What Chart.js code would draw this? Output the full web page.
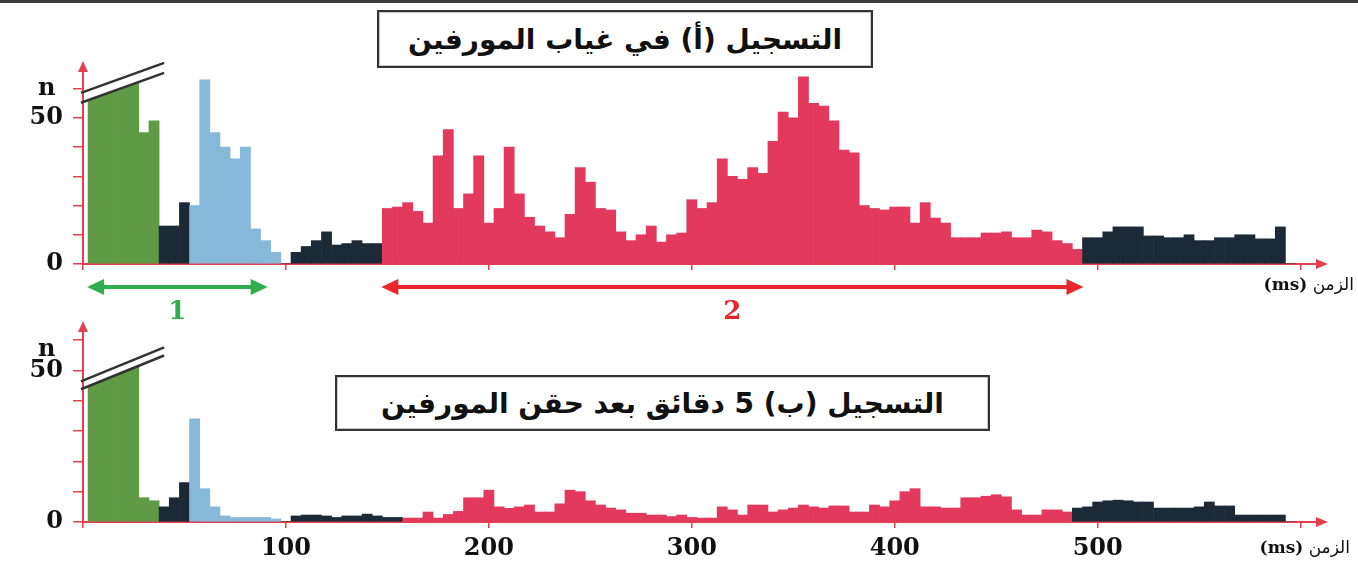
<!DOCTYPE html>
<html>
<head>
<meta charset="utf-8">
<script src="https://cdn.jsdelivr.net/npm/chart.js@4.4.1/dist/chart.umd.min.js"></script>
<style>
  body { margin: 0; background: #fff; width: 1358px; height: 567px; overflow: hidden; position: relative; }
  canvas { position: absolute; left: 0; top: 0; }
  .topline { position: absolute; left: 0; top: 0; width: 1358px; height: 3px; background: #3d3d3d; }
  .box { position: absolute; border: 2px solid #333; box-shadow: inset 0 0 0 1px #c8c8c8;
         background: #fff; font-family: "DejaVu Sans"; font-weight: bold; font-size: 28px;
         display: flex; align-items: center; justify-content: center; direction: rtl; color: #111; }
  .lbl { position: absolute; font-family: "DejaVu Serif"; font-weight: bold; color: #111; }
  .unit { position: absolute; font-family: "DejaVu Sans"; font-size: 17px; color: #111; direction: rtl; }
  .unit b { font-family: "DejaVu Serif"; }
</style>
</head>
<body>
<div class="topline"></div>
<canvas id="chartA" width="1358" height="567"></canvas>
<canvas id="chartB" width="1358" height="567"></canvas>

<div class="box" style="left:377px;top:10px;width:492px;height:54px;">التسجيل (أ) في غياب المورفين</div>
<div class="box" style="left:335px;top:375px;width:651px;height:52px;">التسجيل (ب) 5 دقائق بعد حقن المورفين</div>

<div class="lbl" style="left:38px;top:72px;font-size:24px;">n</div>
<div class="lbl" style="left:38px;top:333px;font-size:24px;">n</div>
<div class="unit" style="right:4px;top:274px;">الزمن <b>(ms)</b></div>
<div class="unit" style="right:8px;top:537px;">الزمن <b>(ms)</b></div>

<script>
// bin centres (ms), 5 ms bins
const binCenters = [
  5,10,15,20,25,30,35,40,45,50,
  55,60,65,70,75,80,85,90,95,100,
  105,110,115,120,125,130,135,140,145,150,
  155,160,165,170,175,180,185,190,195,200,
  205,210,215,220,225,230,235,240,245,250,
  255,260,265,270,275,280,285,290,295,300,
  305,310,315,320,325,330,335,340,345,350,
  355,360,365,370,375,380,385,390,395,400,
  405,410,415,420,425,430,435,440,445,450,
  455,460,465,470,475,480,485,490,495,500,
  505,510,515,520,525,530,535,540,545,550,
  555,560,565,570,575,580,585,590,595
];

// recording (a): without morphine  (first bars run off the axis, hence the break)
const countsA = [
  90,90,90,90,90,45,49,13,13,21,
  20,63,45,40,36,40,12,8,4,0,
  4,6,8,11,6.5,7,8,7,7,19,
  19.5,21,18,14,37,46,19,24,37,14,
  19,40,24,16,13,11,9,17,33,28,
  19,18.5,11,8,10,13,7.5,10,10.6,22,
  19,21,36,30,29,33,31,42,52,50,
  64,55,54,49,39,38,20,19,18.5,19.5,
  19.5,14,21,15.7,14,9,9,9,10.6,10.6,
  11,9,9,11.6,11,8,7,5,9,9,
  11,12.7,12.7,12.7,9.6,9.6,9,9,10,8,
  8,9,9,10,10,8.6,8.6,12.7,0
];

// recording (b): 5 minutes after morphine injection
const countsB = [
  90,90,90,90,90,8,7,5,8,13,
  34,11,5,2,1.5,1.5,1.5,1.5,1,0,
  2,2.3,2.3,2,1.5,2,2,2.6,2,1.5,
  1.5,1.3,1.3,3.3,1.3,2.5,3.5,8,8,10.5,
  5,4.5,5,5.6,3.3,3.3,6,10.5,10,7,
  5.6,4.6,4,2.9,2.9,2.3,2.3,1.8,2.3,1.5,
  1.3,1.3,5,4,2.3,5.6,5.6,3.3,4,4.6,
  5.6,5,4.6,5.3,5.3,3.3,3.3,5.6,5,7,
  10,11,5,5,4.6,4.6,8,8,8.5,9,
  8.3,4,2.3,2.3,4,4,3.3,4.6,5,6.6,
  7,7.2,7,6.6,6.6,4.6,4.6,4.6,4.6,5,
  6.6,5.3,5.3,2.3,2.3,2.3,2.3,2.3,0
];

// groups of bins: [from ms, to ms, kind]
const groupsA = [[5,35,'g'],[40,50,'d'],[55,95,'b'],[100,145,'d'],[150,490,'r'],[495,595,'d']];
const groupsB = [[5,35,'g'],[40,50,'d'],[55,95,'b'],[100,155,'d'],[160,485,'r'],[490,595,'d']];

// zones marked under recording (a)
const zoneRanges = [[2,91],[147,493]];
const zoneNames = ['1','2'];

const kindColor = { g: '#5f9b45', d: '#1c2a37', b: '#86b8d9', r: '#e2395c' };
const axisRed = '#e2404f';
const zoneColor = ['#2fae4f', '#e8262b'];

function colorOf(groups, ms) {
  for (const g of groups) if (ms >= g[0] && ms <= g[1]) return kindColor[g[2]];
  return kindColor.d;
}

const decor = {
  id: 'decor',
  afterDatasetsDraw(chart, args, o) {
    const { ctx, chartArea: a, scales: { x, y } } = chart;
    const x0 = x.getPixelForValue(o.brkX[0]), x1 = x.getPixelForValue(o.brkX[1]);
    const lo = o.brkLow.map(v => y.getPixelForValue(v));
    const hi = o.brkHigh.map(v => y.getPixelForValue(v));
    ctx.save();
    // blank out the part of the tall bars above the break
    ctx.fillStyle = '#fff';
    ctx.beginPath();
    ctx.moveTo(x0 + 1.5, lo[0]); ctx.lineTo(x1 + 2, lo[1]);
    ctx.lineTo(x1 + 2, a.top - 14); ctx.lineTo(x0 + 1.5, a.top - 14);
    ctx.closePath(); ctx.fill();
    ctx.strokeStyle = '#333'; ctx.lineWidth = 2.5;
    ctx.beginPath();
    ctx.moveTo(x0 - 2, lo[0] + 1); ctx.lineTo(x1 + 2, lo[1]);
    ctx.moveTo(x0 - 2, hi[0] + 1); ctx.lineTo(x1 + 2, hi[1]);
    ctx.stroke();
    ctx.restore();
  },
  afterDraw(chart, args, o) {
    const { ctx, chartArea: a, scales: { x } } = chart;
    ctx.save();
    // axis arrow heads
    ctx.fillStyle = axisRed; ctx.strokeStyle = axisRed; ctx.lineWidth = 2;
    ctx.beginPath(); ctx.moveTo(a.left, a.top); ctx.lineTo(a.left, a.top - 8); ctx.stroke();
    ctx.beginPath();
    ctx.moveTo(a.left, a.top - 13); ctx.lineTo(a.left - 5, a.top - 2); ctx.lineTo(a.left + 5, a.top - 2);
    ctx.closePath(); ctx.fill();
    ctx.beginPath();
    ctx.moveTo(a.right + 3, a.bottom); ctx.lineTo(a.right - 9, a.bottom - 5); ctx.lineTo(a.right - 9, a.bottom + 5);
    ctx.closePath(); ctx.fill();
    // zone double arrows
    (o.zones || []).forEach((z, i) => {
      const xa = x.getPixelForValue(z[0]), xb = x.getPixelForValue(z[1]);
      const yy = a.bottom + 23;
      ctx.strokeStyle = zoneColor[i]; ctx.fillStyle = zoneColor[i]; ctx.lineWidth = 4;
      ctx.beginPath(); ctx.moveTo(xa + 10, yy); ctx.lineTo(xb - 10, yy); ctx.stroke();
      ctx.beginPath(); ctx.moveTo(xa, yy); ctx.lineTo(xa + 17, yy - 8); ctx.lineTo(xa + 17, yy + 8); ctx.closePath(); ctx.fill();
      ctx.beginPath(); ctx.moveTo(xb, yy); ctx.lineTo(xb - 17, yy - 8); ctx.lineTo(xb - 17, yy + 8); ctx.closePath(); ctx.fill();
      ctx.font = 'bold 26px "DejaVu Serif"';
      ctx.textAlign = 'center'; ctx.textBaseline = 'middle';
      ctx.fillText(o.zoneText[i], (xa + xb) / 2, yy + 25);
    });
    ctx.restore();
  }
};

function makeChart(id, counts, groups, yMax, padTop, xHeight, showX, brk, zones) {
  return new Chart(document.getElementById(id), {
    type: 'bar',
    data: {
      datasets: [{
        data: binCenters.map((c, i) => ({ x: c, y: counts[i] })),
        backgroundColor: ctx => colorOf(groups, ctx.raw ? ctx.raw.x : 0),
        borderWidth: 0,
        barPercentage: 1,
        categoryPercentage: 1
      }]
    },
    options: {
      responsive: false,
      animation: false,
      layout: { padding: { left: 0, right: 33, top: padTop, bottom: 0 } },
      plugins: {
        legend: { display: false },
        tooltip: { enabled: false },
        decor: { brkX: brk.x, brkLow: brk.low, brkHigh: brk.high, zones: zones, zoneText: zoneNames }
      },
      scales: {
        x: {
          type: 'linear', min: 0, max: 612, offset: false,
          afterFit: s => { s.height = xHeight; },
          border: { color: axisRed, width: 2 },
          grid: { drawOnChartArea: false, offset: false, color: axisRed, tickLength: 6, lineWidth: 1.5 },
          ticks: {
            display: showX, stepSize: 100, includeBounds: false, autoSkip: false, padding: 6, maxRotation: 0,
            color: '#111', font: { family: 'DejaVu Serif', weight: 'bold', size: 24 },
            callback: v => (v > 0 && v < 600 ? v : '')
          }
        },
        y: {
          min: 0, max: yMax,
          afterFit: s => { s.width = 83; },
          border: { color: axisRed, width: 2 },
          grid: { drawOnChartArea: false, color: axisRed, tickLength: 10, lineWidth: 1.5 },
          ticks: {
            stepSize: 10, includeBounds: false, autoSkip: false, padding: 10,
            color: '#111', font: { family: 'DejaVu Serif', weight: 'bold', size: 24 },
            callback: v => (v === 0 || v === 50 ? v : '')
          }
        }
      }
    },
    plugins: [decor]
  });
}

makeChart('chartA', countsA, groupsA, 65, 74, 303, false,
  { x: [0, 39], low: [55.5, 65.4], high: [58.9, 68.8] }, zoneRanges);
makeChart('chartB', countsB, groupsB, 62, 334, 45, true,
  { x: [0, 39], low: [44.1, 54.9], high: [46.7, 57.6] }, []);
</script>
</body>
</html>
